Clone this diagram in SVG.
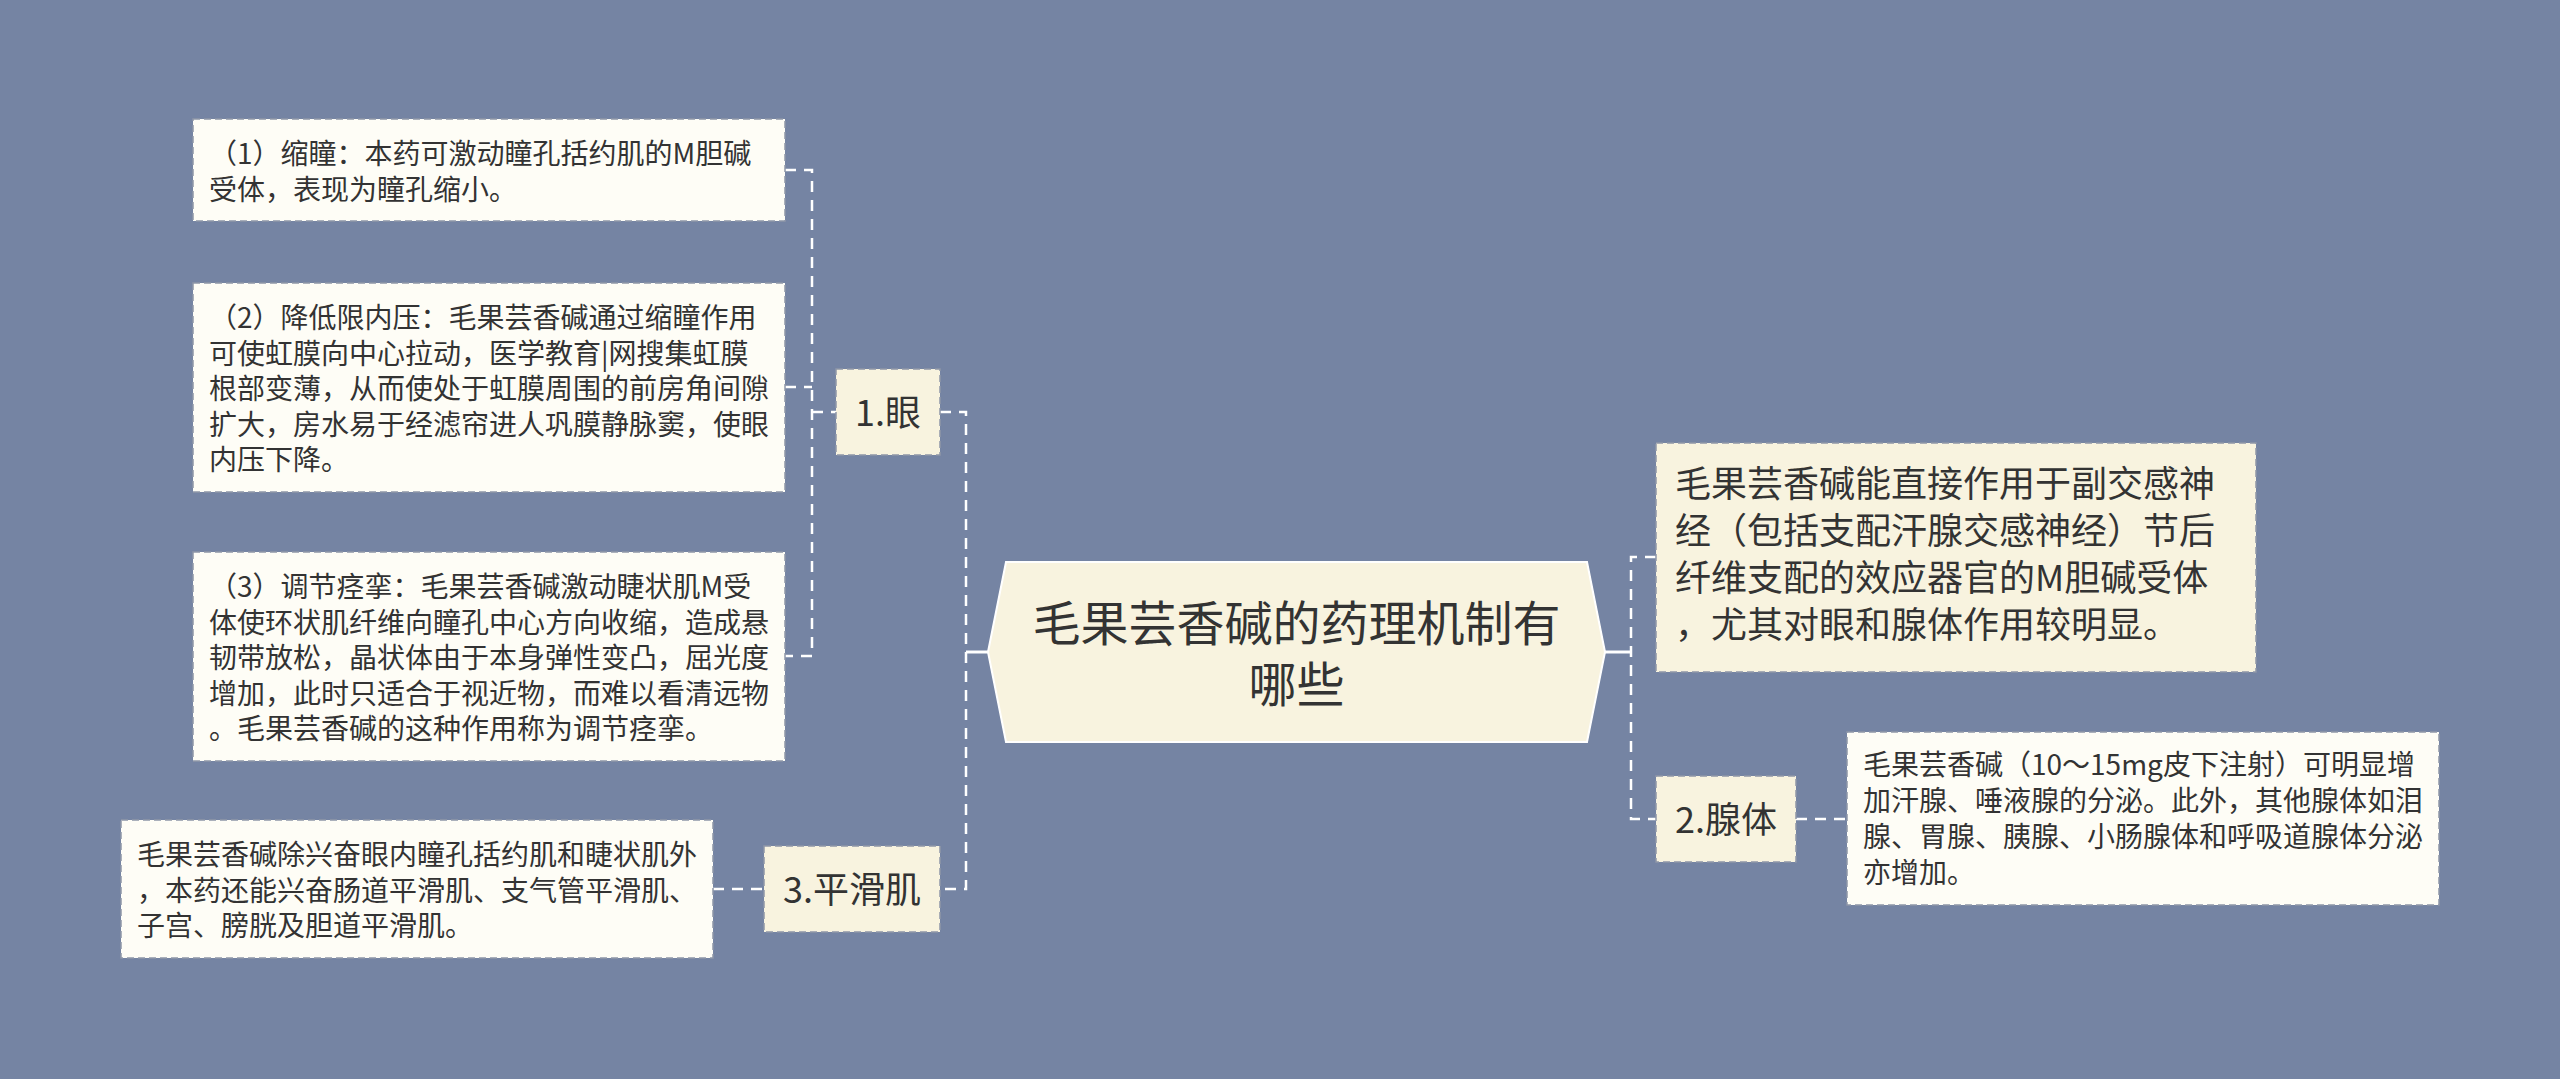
<svg xmlns="http://www.w3.org/2000/svg" width="2560" height="1079" viewBox="0 0 2560 1079">
<style>
text{font-family:"Noto Sans CJK SC","Microsoft YaHei",sans-serif;fill:#333333}
.leaf{fill:#FEFDF6;stroke:#8E96A8;stroke-width:1.5;stroke-dasharray:7 4}
.sub{fill:#F8F3DF;stroke:#8E96A8;stroke-width:1.5;stroke-dasharray:7 4}
.t28{font-size:28px}
.t36{font-size:36px}
.c{stroke:#FFFFFF;stroke-width:2.5;fill:none;stroke-dasharray:11 8}
.s{stroke:#FFFFFF;stroke-width:3;fill:none}
</style>
<rect x="0" y="0" width="2560" height="1079" fill="#7584A3"/>
<g id="connectors">
<line class="s" x1="966" y1="652" x2="988" y2="652"/>
<path class="c" d="M940 412 H966 V889 H940"/>
<path class="c" d="M785 170 H812 V656 H785"/>
<line class="c" x1="785" y1="387" x2="812" y2="387"/>
<line class="c" x1="812" y1="412" x2="836" y2="412"/>
<line class="c" x1="713" y1="889" x2="764" y2="889"/>
<line class="s" x1="1605" y1="652" x2="1631" y2="652"/>
<path class="c" d="M1656 557 H1631 V819 H1656"/>
<line class="c" x1="1796" y1="819" x2="1847" y2="819"/>
</g>
<g id="root">
<polygon points="988,652 1006,562 1587,562 1605,652 1587,742 1006,742" fill="#F8F3DF" stroke="#FFFFFF" stroke-width="2"/>
<text x="1296.5" y="641" font-size="48" text-anchor="middle">毛果芸香碱的药理机制有</text>
<text x="1296.5" y="702" font-size="48" text-anchor="middle">哪些</text>
</g>
<g id="node-eye">
<rect class="sub" x="836" y="369" width="104" height="86"/>
<text class="t36" x="888" y="426" text-anchor="middle">1.眼</text>
</g>
<g id="node-smooth">
<rect class="sub" x="764" y="846" width="176" height="86"/>
<text class="t36" x="852" y="903" text-anchor="middle">3.平滑肌</text>
</g>
<g id="node-gland">
<rect class="sub" x="1656" y="776" width="140" height="86"/>
<text class="t36" x="1726" y="833" text-anchor="middle">2.腺体</text>
</g>
<g id="leaf-eye-1">
<rect class="leaf" x="193" y="119" width="592" height="102"/>
<text class="t28" x="209"><tspan x="209" y="164">（1）缩瞳：本药可激动瞳孔括约肌的M胆碱</tspan><tspan x="209" y="200">受体，表现为瞳孔缩小。</tspan></text>
</g>
<g id="leaf-eye-2">
<rect class="leaf" x="193" y="283" width="592" height="209"/>
<text class="t28"><tspan x="209" y="328">（2）降低限内压：毛果芸香碱通过缩瞳作用</tspan><tspan x="209" y="364">可使虹膜向中心拉动，医学教育|网搜集虹膜</tspan><tspan x="209" y="399">根部变薄，从而使处于虹膜周围的前房角间隙</tspan><tspan x="209" y="435">扩大，房水易于经滤帘进人巩膜静脉窦，使眼</tspan><tspan x="209" y="470">内压下降。</tspan></text>
</g>
<g id="leaf-eye-3">
<rect class="leaf" x="193" y="552" width="592" height="209"/>
<text class="t28"><tspan x="209" y="597">（3）调节痉挛：毛果芸香碱激动睫状肌M受</tspan><tspan x="209" y="633">体使环状肌纤维向瞳孔中心方向收缩，造成悬</tspan><tspan x="209" y="668">韧带放松，晶状体由于本身弹性变凸，屈光度</tspan><tspan x="209" y="704">增加，此时只适合于视近物，而难以看清远物</tspan><tspan x="209" y="739">。毛果芸香碱的这种作用称为调节痉挛。</tspan></text>
</g>
<g id="leaf-smooth">
<rect class="leaf" x="121" y="820" width="592" height="138"/>
<text class="t28"><tspan x="137" y="865">毛果芸香碱除兴奋眼内瞳孔括约肌和睫状肌外</tspan><tspan x="137" y="901">，本药还能兴奋肠道平滑肌、支气管平滑肌、</tspan><tspan x="137" y="936">子宫、膀胱及胆道平滑肌。</tspan></text>
</g>
<g id="leaf-main">
<rect class="sub" x="1656" y="443" width="600" height="229"/>
<text class="t36"><tspan x="1675" y="497">毛果芸香碱能直接作用于副交感神</tspan><tspan x="1675" y="544">经（包括支配汗腺交感神经）节后</tspan><tspan x="1675" y="591">纤维支配的效应器官的M胆碱受体</tspan><tspan x="1675" y="638">，尤其对眼和腺体作用较明显。</tspan></text>
</g>
<g id="leaf-gland">
<rect class="leaf" x="1847" y="732" width="592" height="173"/>
<text class="t28"><tspan x="1863" y="775">毛果芸香碱（10～15mg皮下注射）可明显增</tspan><tspan x="1863" y="811">加汗腺、唾液腺的分泌。此外，其他腺体如泪</tspan><tspan x="1863" y="847">腺、胃腺、胰腺、小肠腺体和呼吸道腺体分泌</tspan><tspan x="1863" y="883">亦增加。</tspan></text>
</g>
</svg>
